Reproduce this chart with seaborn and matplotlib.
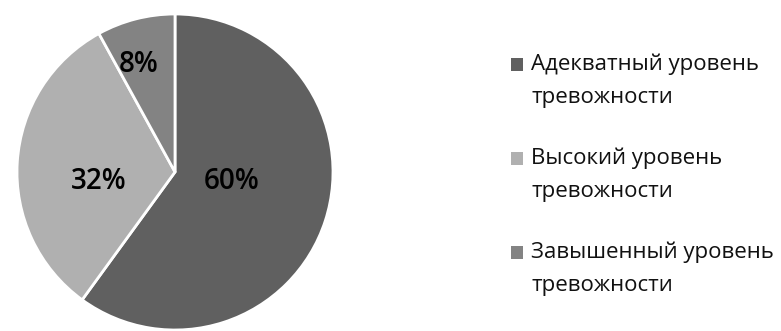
import matplotlib
matplotlib.use("Agg")
import matplotlib.pyplot as plt
from matplotlib.patches import Rectangle
import seaborn as sns

categories = ["Адекватный уровень\nтревожности",
              "Высокий уровень\nтревожности",
              "Завышенный уровень\nтревожности"]
shares = [60, 32, 8]
colors = ["#606060", "#b0b0b0", "#838383"]

sns.set_theme(style="white")
plt.rcParams["font.family"] = ["Open Sans", "DejaVu Sans"]

W, H = 781, 331
fig = plt.figure(figsize=(W / 100, H / 100), dpi=100)
cx, cy, r = 175, 172, 158
ax = fig.add_axes([(cx - r) / W, (H - cy - r) / H, 2 * r / W, 2 * r / H])

wedges, texts, autotexts = ax.pie(
    shares, colors=colors, startangle=90, counterclock=False,
    autopct=lambda p: f"{p:.0f}%", radius=1.0,
    wedgeprops=dict(edgecolor="white", linewidth=2),
    textprops=dict(fontsize=20, fontweight="semibold", color="#000000"),
)
# label anchor points in units of the pie radius
label_xy = [(0.36, -0.063), (-0.48, -0.057), (-0.23, 0.68)]
for t, (lx, ly) in zip(autotexts, label_xy):
    t.set_position((lx, ly))
    t.set_ha("center")
    t.set_va("center")
ax.set_xlim(-1.0, 1.0)
ax.set_ylim(-1.0, 1.0)
ax.set_aspect("equal")

# legend: square swatch beside the first line of each two-line label
first_baseline, entry_step, line_step = 70, 94, 32.5
text_x, box_x, box = 531, 511, 12.5
for i, (label, col) in enumerate(zip(categories, colors)):
    base = first_baseline + i * entry_step
    fig.add_artist(Rectangle((box_x / W, (H - base - 0.5) / H), box / W, box / H,
                             transform=fig.transFigure, facecolor=col,
                             edgecolor="none"))
    for j, line in enumerate(label.split("\n")):
        fig.text(text_x / W, (H - base - j * line_step) / H, line,
                 fontsize=16, color="#111111", ha="left", va="baseline")

fig.savefig("out.png", dpi=100)
